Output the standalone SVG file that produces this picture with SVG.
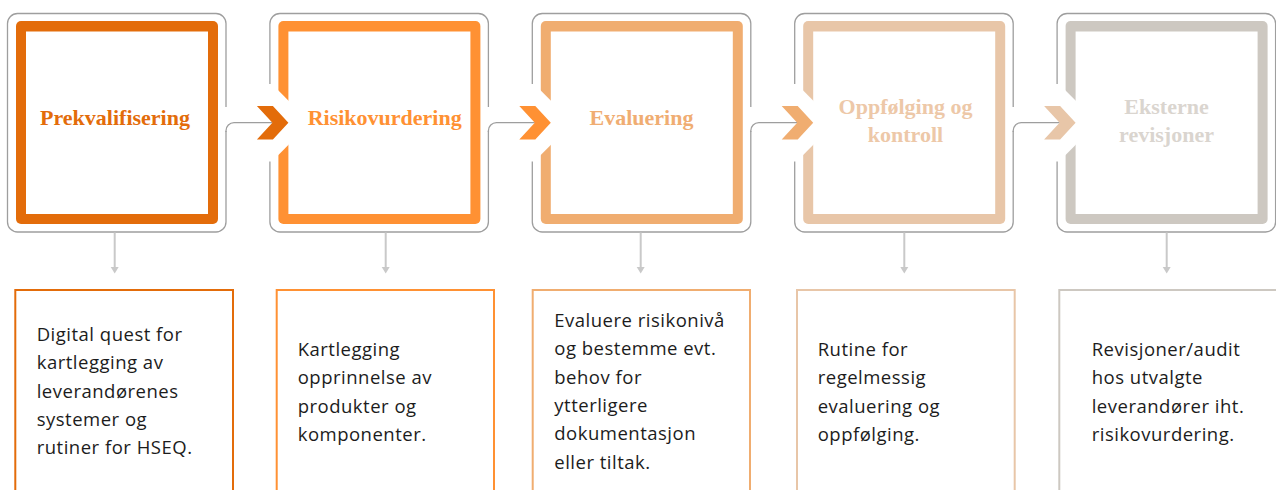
<svg xmlns="http://www.w3.org/2000/svg" width="1276" height="490" viewBox="0 0 1276 490">
<style>
.outer{fill:none;stroke:#9e9e9e;stroke-width:1.3}
.cut{fill:#ffffff}
.inner{fill:#ffffff}
.title{font-family:"Liberation Serif","Times New Roman",serif;font-weight:bold;font-size:22px;text-anchor:middle}
.body{font-family:"Open Sans","Liberation Sans",sans-serif;font-size:18.5px;letter-spacing:0.5px;fill:#1c1c1c}
.lower{fill:#ffffff;stroke-width:2}
.conn{fill:none;stroke:#9e9e9e;stroke-width:1.3}
.down{stroke:#c9c9c9;stroke-width:2}
.head{fill:#c9c9c9}
</style>
<rect width="1276" height="490" fill="#ffffff"/>

<g id="step1">
<path class="outer" d="M226,107 V23.5 A10,10 0 0 0 216,13.5 H17.5 A10,10 0 0 0 7.5,23.5 V222 A10,10 0 0 0 17.5,232 H216 A10,10 0 0 0 226,222 V131"/>
<rect x="16" y="21" width="202" height="203" rx="5" fill="#E36C0A"/>
<rect class="inner" x="26" y="31.5" width="182" height="182.5"/>
<text class="title" x="115" y="125" fill="#E36C0A">Prekvalifisering</text>
</g>

<g id="step2">
<path class="outer" d="M488.4,107 V23.5 A10,10 0 0 0 478.4,13.5 H279.9 A10,10 0 0 0 269.9,23.5 V85 M269.9,160 V222 A10,10 0 0 0 279.9,232 H478.4 A10,10 0 0 0 488.4,222 V131"/>
<rect x="278.4" y="21" width="202" height="203" rx="5" fill="#FF9133"/>
<rect class="inner" x="288.4" y="31.5" width="182" height="182.5"/>
<polygon class="cut" points="261.9,84 271.9,84 310.5,122.7 271.9,161.4 261.9,161.4"/>
<text class="title" x="384.7" y="125" fill="#FF9133">Risikovurdering</text>
</g>

<g id="step3">
<path class="outer" d="M750.8,107 V23.5 A10,10 0 0 0 740.8,13.5 H542.3 A10,10 0 0 0 532.3,23.5 V85 M532.3,160 V222 A10,10 0 0 0 542.3,232 H740.8 A10,10 0 0 0 750.8,222 V131"/>
<rect x="540.8" y="21" width="202" height="203" rx="5" fill="#F0AD70"/>
<rect class="inner" x="550.8" y="31.5" width="182" height="182.5"/>
<polygon class="cut" points="524.3,84 534.3,84 572.9,122.7 534.3,161.4 524.3,161.4"/>
<text class="title" x="641.5" y="125" fill="#F0AD72">Evaluering</text>
</g>

<g id="step4">
<path class="outer" d="M1013.2,107 V23.5 A10,10 0 0 0 1003.2,13.5 H804.7 A10,10 0 0 0 794.7,23.5 V85 M794.7,160 V222 A10,10 0 0 0 804.7,232 H1003.2 A10,10 0 0 0 1013.2,222 V131"/>
<rect x="803.2" y="21" width="202" height="203" rx="5" fill="#E8C6A8"/>
<rect class="inner" x="813.2" y="31.5" width="182" height="182.5"/>
<polygon class="cut" points="786.7,84 796.7,84 835.3,122.7 796.7,161.4 786.7,161.4"/>
<text class="title" x="905.5" fill="#EDC8A8"><tspan x="905.5" y="114.3">Oppfølging og</tspan><tspan x="905.5" y="141.7">kontroll</tspan></text>
</g>

<g id="step5">
<path class="outer" d="M1057.1,85 V23.5 A10,10 0 0 1 1067.1,13.5 H1265.6 A10,10 0 0 1 1275.6,23.5 V222 A10,10 0 0 1 1265.6,232 H1067.1 A10,10 0 0 1 1057.1,222 V160"/>
<rect x="1065.6" y="21" width="202" height="203" rx="5" fill="#CDC8C1"/>
<rect class="inner" x="1075.6" y="31.5" width="182" height="182.5"/>
<polygon class="cut" points="1049.1,84 1059.1,84 1097.7,122.7 1059.1,161.4 1049.1,161.4"/>
<text class="title" x="1166.5" fill="#DAD5CF"><tspan x="1166.5" y="114.3">Eksterne</tspan><tspan x="1166.5" y="141.7">revisjoner</tspan></text>
</g>

<g id="desc1">
<rect class="lower" x="15.3" y="290" width="217.7" height="220" stroke="#E36C0A"/>
<text class="body" x="36.7" y="340.7"><tspan x="36.7" dy="0">Digital quest for</tspan><tspan x="36.7" dy="28.4">kartlegging av</tspan><tspan x="36.7" dy="28.4">leverandørenes</tspan><tspan x="36.7" dy="28.4">systemer og</tspan><tspan x="36.7" dy="28.4">rutiner for HSEQ.</tspan></text>
</g>

<g id="desc2">
<rect class="lower" x="276.7" y="290" width="217.3" height="220" stroke="#FF9133"/>
<text class="body" x="297.7" y="355.7"><tspan x="297.7" dy="0">Kartlegging</tspan><tspan x="297.7" dy="28.4">opprinnelse av</tspan><tspan x="297.7" dy="28.4">produkter og</tspan><tspan x="297.7" dy="28.4">komponenter.</tspan></text>
</g>

<g id="desc3">
<rect class="lower" x="532.7" y="290" width="217.3" height="220" stroke="#F0AD70"/>
<text class="body" x="554.3" y="326.7"><tspan x="554.3" dy="0">Evaluere risikonivå</tspan><tspan x="554.3" dy="28.4">og bestemme evt.</tspan><tspan x="554.3" dy="28.4">behov for</tspan><tspan x="554.3" dy="28.4">ytterligere</tspan><tspan x="554.3" dy="28.4">dokumentasjon</tspan><tspan x="554.3" dy="28.4">eller tiltak.</tspan></text>
</g>

<g id="desc4">
<rect class="lower" x="797" y="290" width="217.7" height="220" stroke="#E8C6A8"/>
<text class="body" x="817.7" y="355.7"><tspan x="817.7" dy="0">Rutine for</tspan><tspan x="817.7" dy="28.4">regelmessig</tspan><tspan x="817.7" dy="28.4">evaluering og</tspan><tspan x="817.7" dy="28.4">oppfølging.</tspan></text>
</g>

<g id="desc5">
<rect class="lower" x="1059.3" y="290" width="230" height="220" stroke="#CDC8C1"/>
<text class="body" x="1091.7" y="356"><tspan x="1091.7" dy="0">Revisjoner/audit</tspan><tspan x="1091.7" dy="28.4">hos utvalgte</tspan><tspan x="1091.7" dy="28.4">leverandører iht.</tspan><tspan x="1091.7" dy="28.4">risikovurdering.</tspan></text>
</g>

<g id="connectors">
<path class="conn" d="M226,132 V130.7 A8,8 0 0 1 234,122.7 H272.4"/>
<path class="conn" d="M488.4,132 V130.7 A8,8 0 0 1 496.4,122.7 H534.8"/>
<path class="conn" d="M750.8,132 V130.7 A8,8 0 0 1 758.8,122.7 H797.2"/>
<path class="conn" d="M1013.2,132 V130.7 A8,8 0 0 1 1021.2,122.7 H1059.6"/>
<polygon fill="#E36C0A" points="256.9,106 272.9,106 288.4,122.7 272.9,139.4 256.9,139.4 272.4,122.7"/>
<polygon fill="#FF9133" points="519.3,106 535.3,106 550.8,122.7 535.3,139.4 519.3,139.4 534.8,122.7"/>
<polygon fill="#F0AD70" points="781.7,106 797.7,106 813.2,122.7 797.7,139.4 781.7,139.4 797.2,122.7"/>
<polygon fill="#E8C6A8" points="1044.1,106 1060.1,106 1075.6,122.7 1060.1,139.4 1044.1,139.4 1059.6,122.7"/>
<line class="down" x1="114.7" y1="232.5" x2="114.7" y2="268"/>
<polygon class="head" points="110.7,267 118.7,267 114.7,273.5"/>
<line class="down" x1="385.7" y1="232.5" x2="385.7" y2="268"/>
<polygon class="head" points="381.7,267 389.7,267 385.7,273.5"/>
<line class="down" x1="640.7" y1="232.5" x2="640.7" y2="268"/>
<polygon class="head" points="636.7,267 644.7,267 640.7,273.5"/>
<line class="down" x1="904.3" y1="232.5" x2="904.3" y2="268"/>
<polygon class="head" points="900.3,267 908.3,267 904.3,273.5"/>
<line class="down" x1="1166.7" y1="232.5" x2="1166.7" y2="268"/>
<polygon class="head" points="1162.7,267 1170.7,267 1166.7,273.5"/>
</g>
</svg>
